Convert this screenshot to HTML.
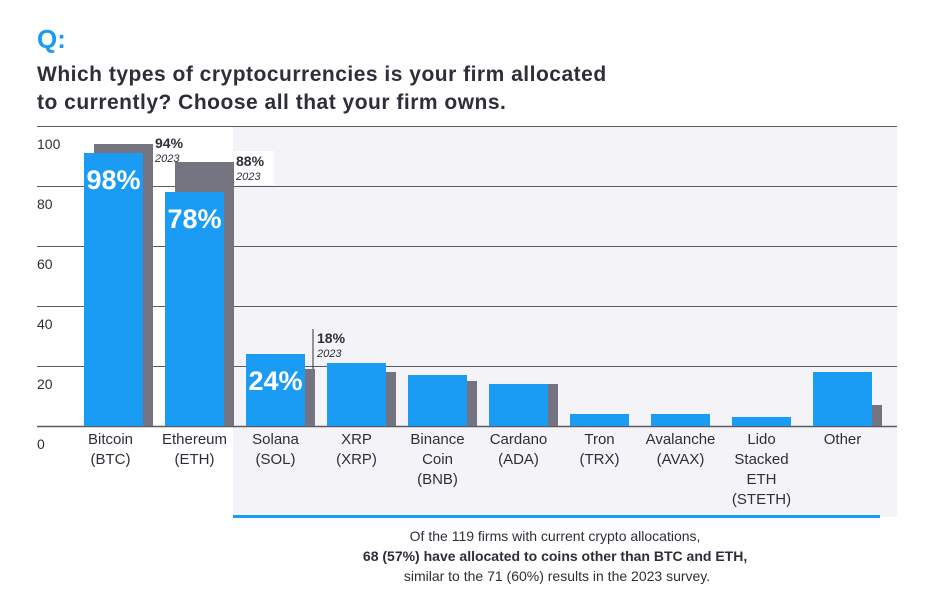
<!DOCTYPE html>
<html><head><meta charset="utf-8"><style>
body{margin:0;background:#fff;font-family:"Liberation Sans",sans-serif;}
#wrap{position:relative;width:926px;height:606px;overflow:hidden;}
</style></head><body>
<div id="wrap">
<svg id="chart" width="926" height="606" xmlns="http://www.w3.org/2000/svg">
<text x="37" y="48" font-size="26" font-weight="bold" fill="#1a9cf5">Q:</text>
<text x="37" y="81" font-size="21" font-weight="bold" letter-spacing="0.5" fill="#2e2e38">Which types of cryptocurrencies is your firm allocated</text>
<text x="37" y="109" font-size="21" font-weight="bold" letter-spacing="0.5" fill="#2e2e38">to currently? Choose all that your firm owns.</text>
<rect x="233" y="126" width="664" height="391" fill="#f4f4f8"/>
<g id="grid"></g><g id="bars"></g><g id="labels"></g>
<rect x="233" y="515" width="647" height="3" fill="#1a9cf5"/>
<text text-anchor="middle" font-size="14" fill="#2e2e38">
<tspan x="557" y="541">Of the 119 firms with current crypto allocations,</tspan>
<tspan x="557" y="561" font-weight="bold">68 (57%) have allocated to coins other than BTC and ETH,</tspan>
<tspan x="557" y="581">similar to the 71 (60%) results in the 2023 survey.</tspan></text>
</svg></div>
<script>
const categories=[["Bitcoin","(BTC)"],["Ethereum","(ETH)"],["Solana","(SOL)"],["XRP","(XRP)"],["Binance","Coin","(BNB)"],["Cardano","(ADA)"],["Tron","(TRX)"],["Avalanche","(AVAX)"],["Lido","Stacked","ETH","(STETH)"],["Other"]];
const values2024=[91,78,24,21,17,14,4,4,3,18];
const values2023=[94,88,19,18,15,14,0,0,0,7];
const printed2024=["98%","78%","24%","","","","","","",""];
const printed2023=["94%","88%","18%","","","","","","",""];
const yTicks=[0,20,40,60,80,100];
const NS="http://www.w3.org/2000/svg";
const y=v=>426-v*3, x=i=>84+i*81;
function mk(t,a,p){const e=document.createElementNS(NS,t);for(const k in a)e.setAttribute(k,a[k]);p.appendChild(e);return e;}
const grid=document.getElementById('grid'),bars=document.getElementById('bars'),labels=document.getElementById('labels');
yTicks.forEach(t=>{
 const l=mk('line',{x1:37,x2:897,y1:y(t)+0.5,y2:y(t)+0.5,stroke:'#5a5a64','stroke-width':t==0?1.5:1},grid);
 
 
 const tx=mk('text',{x:37,y:y(t)+23,'font-size':14,fill:'#2e2e38'},grid);tx.textContent=t;
 
 
});
categories.forEach((c,i)=>{
 if(values2023[i]>0){const g=mk('rect',{x:x(i)+10,y:y(values2023[i]),width:59,height:values2023[i]*3,fill:'#747480'},bars);
 
 }
 const b=mk('rect',{x:x(i),y:y(values2024[i]),width:59,height:values2024[i]*3,fill:'#1a9cf5'},bars);
 
 
 if(printed2024[i]){const t=mk('text',{x:x(i)+29.5,y:y(values2024[i])+36,'text-anchor':'middle','font-size':27,'font-weight':'bold',fill:'#fff'},labels);t.textContent=printed2024[i];
 
 }
 if(printed2023[i]){const lx=x(i)+71, ly=i==2?y(values2023[i])-26:y(values2023[i])+4;
  if(i==1)mk('rect',{x:lx-2,y:ly-15,width:40,height:34,fill:'#ffffff'},labels);
  if(i==2)mk('line',{x1:lx-4,x2:lx-4,y1:ly-14,y2:y(values2023[i]),stroke:'#2e2e38','stroke-width':1},labels);
  const t=mk('text',{x:lx,y:ly,'font-size':14,'font-weight':'bold',fill:'#2e2e38'},labels);t.textContent=printed2023[i];
  
  
  const s=mk('text',{x:lx,y:ly+14,'font-size':11,'font-style':'italic',fill:'#2e2e38'},labels);s.textContent='2023';
  
  }
 c.forEach((ln,j)=>{const t=mk('text',{x:x(i)+29.5+(i==0?-3:0),y:444+j*20,'text-anchor':'middle','font-size':15,fill:'#2e2e38'},labels);t.textContent=ln;
  
  });
});
</script></body></html>
